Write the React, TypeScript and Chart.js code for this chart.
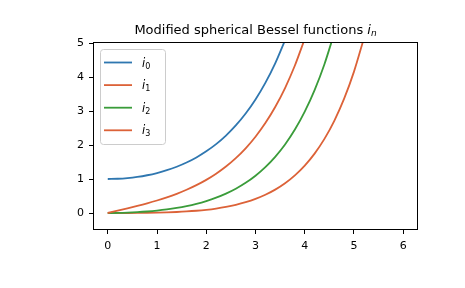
import React, { useEffect, useRef } from "react";
import { Chart, registerables } from "chart.js";

Chart.register(...registerables);

const xValues = [0, 0.2, 0.4, 0.6, 0.8, 1.0, 1.2, 1.4, 1.6, 1.8, 2.0, 2.2, 2.4, 2.6, 2.8, 3.0, 3.2, 3.4, 3.6, 3.8, 4.0, 4.2, 4.4, 4.6, 4.8, 5.0, 5.2];

const i0Values = [1, 1.00668, 1.02688, 1.06109, 1.11013, 1.1752, 1.25788, 1.36022, 1.48473, 1.63454, 1.81343, 2.02596, 2.2776, 2.5749, 2.92568, 3.33929, 3.82684, 4.40158, 5.07929];
const i1Values = [0, 0.06693, 0.13548, 0.20729, 0.28413, 0.36788, 0.46064, 0.56477, 0.68296, 0.8183, 0.97438, 1.15543, 1.3664, 1.61312, 1.90252, 2.24279, 2.64369, 3.11681, 3.67597, 4.33763, 5.12144];
const i2Values = [0, 0.00267, 0.01079, 0.02462, 0.04465, 0.07156, 0.10628, 0.14999, 0.20418, 0.27071, 0.35186, 0.45037, 0.5696, 0.71361, 0.88728, 1.0965, 1.34838, 1.65145, 2.01599, 2.45435, 2.9814, 3.61501, 4.37673, 5.29243];
const i3Values = [0, 0.00008, 0.00061, 0.0021, 0.00505, 0.01007, 0.01782, 0.02911, 0.04489, 0.06631, 0.09475, 0.13187, 0.17973, 0.2408, 0.3181, 0.41529, 0.53685, 0.68821, 0.87599, 1.10822, 1.39469, 1.74725, 2.18036, 2.71154, 3.36196, 4.15754, 5.12952];

const seriesLabels = ["0", "1", "2", "3"];
const seriesColors = ["#2f77b0", "#dc6238", "#3a9c3a", "#dc6238"];
const xTicks = [0, 1, 2, 3, 4, 5, 6];
const yTicks = [0, 1, 2, 3, 4, 5];
const titleText = "Modified spherical Bessel functions ";
const titleVar = "i";
const titleSub = "n";

const FONT = "'DejaVu Sans', sans-serif";

const framePlugin = {
  id: "frame",
  afterDraw(chart: any) {
    const { ctx, chartArea } = chart;
    ctx.save();
    ctx.strokeStyle = "#000";
    ctx.lineWidth = 1;
    const l = Math.round(chartArea.left) + 0.5;
    const t = Math.round(chartArea.top) - 0.5;
    const r = Math.round(chartArea.right) - 0.5;
    const b = Math.round(chartArea.bottom) - 0.5;
    ctx.strokeRect(l, t, r - l, b - t);
    // title
    const cx = (chartArea.left + chartArea.right) / 2;
    const y = 34;
    const fs = 13;
    ctx.fillStyle = "#000";
    ctx.textBaseline = "alphabetic";
    ctx.font = `${fs}px ${FONT}`;
    const w1 = ctx.measureText(titleText).width;
    ctx.font = `italic ${fs}px ${FONT}`;
    const w2 = ctx.measureText(titleVar).width;
    ctx.font = `italic 9px ${FONT}`;
    const w3 = ctx.measureText(titleSub).width;
    let x = cx - (w1 + w2 + w3) / 2;
    ctx.textAlign = "left";
    ctx.font = `${fs}px ${FONT}`;
    ctx.fillText(titleText, x, y);
    x += w1;
    ctx.font = `italic ${fs}px ${FONT}`;
    ctx.fillText(titleVar, x, y);
    x += w2;
    ctx.font = `italic 9px ${FONT}`;
    ctx.fillText(titleSub, x, y + 2);
    ctx.restore();
  },
};

const legendPlugin = {
  id: "customLegend",
  afterDatasetsDraw(chart: any) {
    const { ctx } = chart;
    const bx = 100.5, by = 49.5, bw = 65, bh = 95, r = 3;
    ctx.save();
    ctx.beginPath();
    ctx.moveTo(bx + r, by);
    ctx.lineTo(bx + bw - r, by);
    ctx.arcTo(bx + bw, by, bx + bw, by + r, r);
    ctx.lineTo(bx + bw, by + bh - r);
    ctx.arcTo(bx + bw, by + bh, bx + bw - r, by + bh, r);
    ctx.lineTo(bx + r, by + bh);
    ctx.arcTo(bx, by + bh, bx, by + bh - r, r);
    ctx.lineTo(bx, by + r);
    ctx.arcTo(bx, by, bx + r, by, r);
    ctx.closePath();
    ctx.fillStyle = "rgba(255,255,255,0.8)";
    ctx.fill();
    ctx.strokeStyle = "#cccccc";
    ctx.lineWidth = 1;
    ctx.stroke();
    chart.data.datasets.forEach((ds: any, i: number) => {
      const yy = 62.5 + i * 22.6;
      ctx.beginPath();
      ctx.strokeStyle = ds.borderColor;
      ctx.lineWidth = 1.8;
      ctx.moveTo(104, yy);
      ctx.lineTo(132, yy);
      ctx.stroke();
      ctx.fillStyle = "#000";
      ctx.textAlign = "left";
      ctx.textBaseline = "alphabetic";
      ctx.font = `italic 11.5px ${FONT}`;
      ctx.fillText("i", 142, yy + 4);
      const wi = ctx.measureText("i").width;
      ctx.font = `8px ${FONT}`;
      ctx.fillText(seriesLabels[i], 142 + wi, yy + 6);
    });
    ctx.restore();
  },
};

export default function App() {
  const ref = useRef<HTMLCanvasElement | null>(null);
  useEffect(() => {
    if (!ref.current) return;
    const all = [i0Values, i1Values, i2Values, i3Values];
    const chart = new Chart(ref.current, {
      type: "line",
      data: {
        datasets: all.map((vals, i) => ({
          label: "i" + seriesLabels[i],
          data: vals.map((v, k) => ({ x: xValues[k], y: v })),
          borderColor: seriesColors[i],
          backgroundColor: seriesColors[i],
          borderWidth: 1.8,
          pointRadius: 0,
          cubicInterpolationMode: "monotone" as const,
          fill: false,
        })),
      },
      options: {
        responsive: false,
        animation: false,
        devicePixelRatio: 1,
        layout: { padding: { left: 0, right: 47, top: 43, bottom: 0 } },
        plugins: {
          legend: { display: false },
          title: { display: false },
          tooltip: { enabled: false },
        },
        scales: {
          x: {
            type: "linear",
            min: -0.3,
            max: 6.3,
            afterFit(scale: any) {
              scale.height = 58;
            },
            afterBuildTicks(scale: any) {
              scale.ticks = xTicks.map((v) => ({ value: v }));
            },
            grid: {
              drawOnChartArea: false,
              drawTicks: true,
              tickLength: 4,
              color: "#000",
            },
            border: { display: false },
            ticks: {
              color: "#000",
              padding: 6,
              maxRotation: 0,
              font: { family: FONT, size: 11 },
              callback: (v: any) => String(v),
            },
          },
          y: {
            type: "linear",
            min: -0.5,
            max: 5,
            afterFit(scale: any) {
              scale.width = 93;
            },
            afterBuildTicks(scale: any) {
              scale.ticks = yTicks.map((v) => ({ value: v }));
            },
            grid: {
              drawOnChartArea: false,
              drawTicks: true,
              tickLength: 4,
              color: "#000",
            },
            border: { display: false },
            ticks: {
              color: "#000",
              padding: 5,
              font: { family: FONT, size: 11 },
              callback: (v: any) => String(v),
            },
          },
        },
      },
      plugins: [framePlugin, legendPlugin],
    });
    return () => chart.destroy();
  }, []);
  return (
    <div style={{ position: "fixed", left: 0, top: 0, width: 465, height: 288, background: "#fff" }}>
      <canvas ref={ref} width={465} height={288} style={{ width: 465, height: 288, display: "block" }} />
    </div>
  );
}
